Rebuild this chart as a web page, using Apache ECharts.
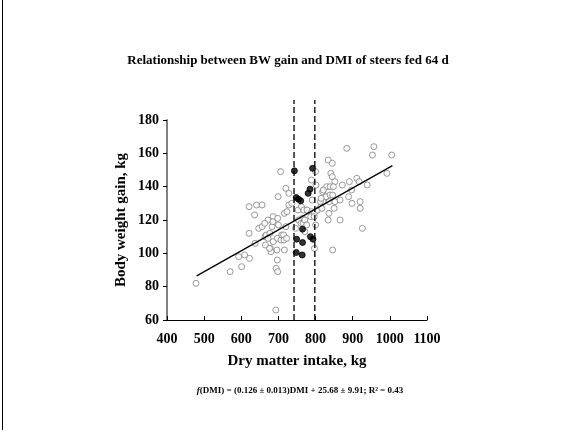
<!DOCTYPE html>
<html>
<head>
<meta charset="utf-8">
<script src="https://cdn.jsdelivr.net/npm/echarts@6/dist/echarts.min.js"></script>
<style>
html,body{margin:0;padding:0;background:#fff;}
#chart{width:576px;height:430px;}
</style>
</head>
<body>
<div id="chart"></div>
<script>
// Open circles: DMI (kg) and body weight gain (kg)
const openDMI = [478,570,601,593,609,622,621,637,621,636,641,656,647,656,664,665,693,672,686,698,716,683,667,677,672,686,697,707,709,714,715,722,720,678,680,716,697,694,698,706,720,699,728,728,723,753,762,768,777,765,790,797,787,796,805,814,820,754,761,767,771,800,776,771,746,797,789,801,819,791,813,663,685,700,676,696,736,800,
  884,957,953,834,845,841,845,830,839,852,848,821,872,891,911,917,939,828,839,846,837,852,815,866,889,898,920,920,850,836,834,866,926,846,817,1005,992,897];
const openGain = [82,89,92,98,99,97,112,106,128,123,129,129,115,116,110,105,66,120,122,121,124,116,111,112,109,107,109,108,111,111,108,109,116,103,101,102,96,91,89,149,139,134,136,129,125,126,128,126,126,121,125,124,122,122,126,128,131,120,118,118,120,117,117,113,115,103,144,141,137,132,131,118,119,117,103,102,130,149,
  163,164,159,156,154,148,146,140,140,143,140,138,141,143,145,143,141,134,135,135,131,131,133,132,134,130,131,127,127,124,120,120,115,102,127,159,148,138];
// Filled circles (steers between the two DMI cut-offs)
const selDMI = [743,792,785,780,748,754,760,765,749,765,786,793,748,764];
const selGain = [149.5,151,138.5,136,133.5,132.5,131.5,114.5,108.5,106.5,110,108.5,100.5,99];
// Regression line end points
const regDMI = [480,1007];
const regGain = [86.5,152.6];
// Vertical dashed cut-off lines
const cutDMI = [742,798];
const cutRange = [60,192];

const titleText = 'Relationship between BW gain and DMI of steers fed 64 d';
const xName = 'Dry matter intake, kg';
const yName = 'Body weight gain, kg';

const FONT = 'Liberation Serif';
const zip = (a,b) => a.map((v,i)=>[v,b[i]]);

const chart = echarts.init(document.getElementById('chart'), null, {renderer:'canvas'});
const series = [
  {
    type:'line', data: zip(regDMI, regGain), symbol:'none', silent:true,
    lineStyle:{color:'#000', width:1.3}, z:3
  },
  ...cutDMI.map(x => ({
    type:'line', data: cutRange.map(y=>[x,y]), symbol:'none', clip:false, silent:true,
    lineStyle:{color:'#000', width:1.3, type:[6,3]}, z:4
  })),
  {
    type:'scatter', data: zip(openDMI, openGain), symbol:'circle', symbolSize:6,
    itemStyle:{color:'#fff', borderColor:'#7f7f7f', borderWidth:1}, z:2
  },
  {
    type:'scatter', data: zip(selDMI, selGain), symbol:'circle', symbolSize:6,
    itemStyle:{color:'#000', borderColor:'#000', borderWidth:1}, z:5
  }
];

chart.setOption({
  animation:false,
  backgroundColor:'#fff',
  title:{
    text:titleText, left:'center', top:49,
    textStyle:{fontFamily:FONT, fontWeight:'bold', fontSize:13, color:'#000'}
  },
  grid:{left:167, top:120, width:260, height:200},
  xAxis:{
    type:'value', min:400, max:1100, interval:100,
    name:xName, nameLocation:'middle', nameGap:34,
    nameTextStyle:{fontFamily:FONT, fontWeight:'bold', fontSize:15, color:'#000'},
    axisLine:{show:true, lineStyle:{color:'#000', width:1}},
    axisTick:{show:true, inside:true, length:4, lineStyle:{color:'#000'}},
    axisLabel:{fontFamily:FONT, fontWeight:'bold', fontSize:14, color:'#000', margin:12,
      formatter: v => String(v)},
    splitLine:{show:false}
  },
  yAxis:{
    type:'value', min:60, max:180, interval:20,
    name:yName, nameLocation:'middle', nameGap:38, nameRotate:90,
    nameTextStyle:{fontFamily:FONT, fontWeight:'bold', fontSize:15, color:'#000'},
    axisLine:{show:true, lineStyle:{color:'#808080', width:2}},
    axisTick:{show:true, inside:false, length:4, lineStyle:{color:'#000'}},
    axisLabel:{fontFamily:FONT, fontWeight:'bold', fontSize:14, color:'#000', margin:8,
      formatter: v => String(v)},
    splitLine:{show:false}
  },
  graphic:[
    {
      type:'line', silent:true,
      shape:{x1:2.5, y1:0, x2:2.5, y2:430},
      style:{stroke:'#000', lineWidth:1}
    },
    {
      type:'text', x:300, y:391,
      style:{
        text:'{i|f}(DMI) = (0.126 ± 0.013)DMI + 25.68 ± 9.91; R² = 0.43',
        font:'bold 9px "Liberation Serif"', fill:'#000',
        align:'center', verticalAlign:'middle',
        rich:{i:{fontStyle:'italic', fontWeight:'bold', fontSize:9, fontFamily:FONT}}
      }
    }
  ],
  series
});
</script>
</body>
</html>
